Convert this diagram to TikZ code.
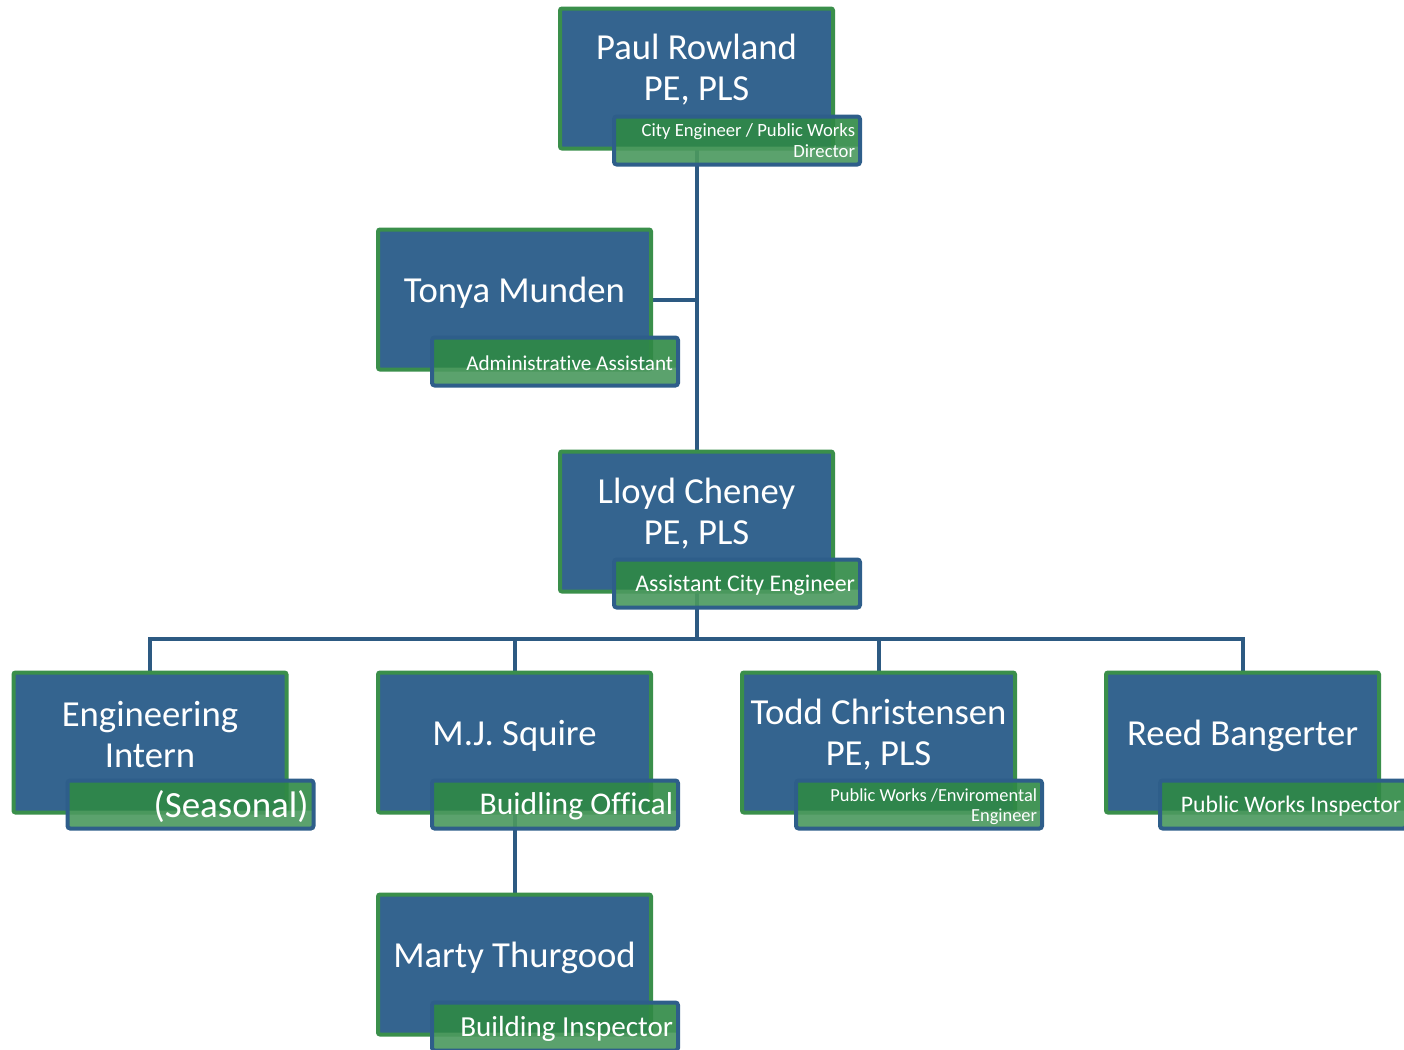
\documentclass[tikz,border=0pt]{standalone}
\usepackage{fontspec}
\setmainfont{Carlito}[Ligatures=NoCommon]
\usetikzlibrary{calc}
\definecolor{boxblue}{HTML}{34648F}
\definecolor{boxgreen}{HTML}{3A8F4B}
\definecolor{rolegreen}{HTML}{2F8945}
\definecolor{roleedge}{HTML}{2E5E8A}
\definecolor{connblue}{HTML}{2D5A82}
\tikzset{
  personbox/.style={draw=boxgreen, fill=boxblue, line width=3pt, rounded corners=1.5pt,
    minimum width=204.75pt, minimum height=105pt, inner sep=0pt},
  rolebox/.style={draw=roleedge, fill=rolegreen, fill opacity=0.9, line width=3pt, rounded corners=2pt,
    minimum width=184.5pt, minimum height=36pt, inner sep=0pt,
    path picture={\fill[white, opacity=0.13]
      (path picture bounding box.south west) rectangle ([yshift=-4.5pt]path picture bounding box.east);}},
  anchorbox/.style={minimum width=204.75pt, minimum height=105pt, inner sep=0pt},
  nametext/.style={text=white, align=center, inner sep=0pt, font=\fontsize{27.5}{31}\selectfont},
  roletext/.style={text=white, align=right, inner sep=0pt, anchor=east},
  conn/.style={draw=connblue, line width=3pt},
}
\newcommand{\roleat}[1]{($(#1.center)+(40.5,62)$)}
\begin{document}
\begin{tikzpicture}[x=0.75pt, y=-0.75pt]
\useasboundingbox (0,0) rectangle (1404,1050);
\clip (0,0) rectangle (1404,1050);

% box centres, in pixel units
\coordinate (paul-c)  at (696.5, 78.5);
\coordinate (tonya-c) at (514.5, 299.5);
\coordinate (lloyd-c) at (696.5, 521.5);
\coordinate (eng-c)   at (150, 742.5);
\coordinate (mj-c)    at (514.5, 742.5);
\coordinate (todd-c)  at (878.5, 742.5);
\coordinate (reed-c)  at (1242.5, 742.5);
\coordinate (marty-c) at (514.5, 964.5);
\coordinate (bus)     at (696.5, 639);

% invisible frames used as connector anchors
\foreach \who in {paul,tonya,lloyd,eng,mj,todd,reed,marty}
  \node[anchorbox] (\who) at (\who-c) {};

% connectors, drawn first so the boxes sit on top
\draw[conn] (paul.center) -- (lloyd.center);
\draw[conn] (tonya.east) -- (tonya.east -| paul.center);
\draw[conn] (lloyd.center) -- (bus);
\draw[conn] (eng.north) -- (eng.north |- bus) -- (reed.north |- bus) -- (reed.north);
\draw[conn] (mj.north) -- (mj.north |- bus);
\draw[conn] (todd.north) -- (todd.north |- bus);
\draw[conn] (mj.center) -- (marty.north);

% boxes and title bars
\foreach \who in {paul,tonya,lloyd,eng,mj,todd,reed,marty}{
  \node[personbox] (\who-box) at (\who-c) {};
  \node[rolebox] (\who-role) at \roleat{\who-c} {};
}

\node[nametext] (paul-name)  at ([yshift=6.75pt]paul.center) {Paul Rowland\\PE, PLS};
\node[nametext] (tonya-name) at ([yshift=5.25pt]tonya.center) {Tonya Munden};
\node[nametext] (lloyd-name) at ([yshift=6pt]lloyd.center) {Lloyd Cheney\\PE, PLS};
\node[nametext] (eng-name)   at ([yshift=6pt]eng.center) {Engineering\\Intern};
\node[nametext] (mj-name)    at ([yshift=5.25pt]mj.center) {M.J. Squire};
\node[nametext] (todd-name)  at ([yshift=6pt]todd.center) {Todd Christensen\\PE, PLS};
\node[nametext] (reed-name)  at ([yshift=5.25pt]reed.center) {Reed Bangerter};
\node[nametext] (marty-name) at ([yshift=5.25pt]marty.center) {Marty Thurgood};

\node[roletext, font=\fontsize{14}{15.75}\selectfont] (paul-title) at ([xshift=-5pt]paul-role.east) {City Engineer / Public Works\\Director};
\node[roletext, font=\fontsize{15.9}{18}\selectfont] (tonya-title) at ([xshift=-5pt,yshift=-1.5pt]tonya-role.east) {Administrative Assistant};
\node[roletext, font=\fontsize{17.9}{20}\selectfont] (lloyd-title) at ([xshift=-5pt,yshift=-1.5pt]lloyd-role.east) {Assistant City Engineer};
\node[roletext, font=\fontsize{27.7}{31}\selectfont] (eng-title) at ([xshift=-5pt,yshift=-1.5pt]eng-role.east) {(Seasonal)};
\node[roletext, font=\fontsize{23.7}{26}\selectfont] (mj-title) at ([xshift=-5pt,yshift=-1.5pt]mj-role.east) {Buidling Offical};
\node[roletext, font=\fontsize{13.8}{15}\selectfont] (todd-title) at ([xshift=-5pt,yshift=-1.5pt]todd-role.east) {Public Works /Enviromental\\Engineer};
\node[roletext, font=\fontsize{17.8}{20}\selectfont] (reed-title) at ([xshift=-5pt,yshift=-1.5pt]reed-role.east) {Public Works Inspector};
\node[roletext, font=\fontsize{21.8}{24}\selectfont] (marty-title) at ([xshift=-5pt,yshift=-1.5pt]marty-role.east) {Building Inspector};
\end{tikzpicture}
\end{document}
